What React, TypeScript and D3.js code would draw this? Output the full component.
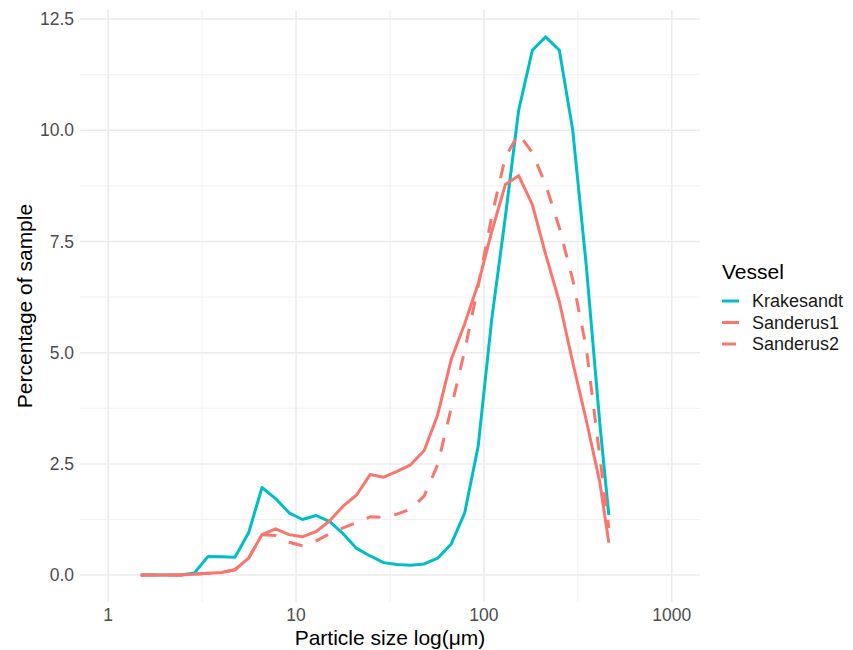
import React from "react";
import * as d3 from "d3";

// Particle size classes (µm)
const sizes = [
  1.49, 1.75, 2.07, 2.44, 2.88, 3.4, 4.01, 4.73, 5.59, 6.59, 7.78, 9.18, 10.8,
  12.8, 15.1, 17.8, 21.0, 24.8, 29.3, 34.5, 40.7, 48.1, 56.7, 67.0, 79.0, 93.2,
  110, 130, 153, 181, 213, 252, 297, 351, 414, 462,
];

// Percentage of sample per class, one array per vessel
const krakesandt = [
  0, 0, 0, 0, 0.05, 0.42, 0.41, 0.4, 0.95, 1.97, 1.72, 1.4, 1.25, 1.34, 1.2,
  0.93, 0.6, 0.43, 0.28, 0.24, 0.22, 0.25, 0.38, 0.7, 1.4, 2.9, 5.75, 8.05,
  10.45, 11.8, 12.1, 11.8, 10.0, 6.93, 3.4, 1.35,
];
const sanderus1 = [
  0, 0, 0, 0, 0.02, 0.04, 0.06, 0.12, 0.38, 0.91, 1.04, 0.91, 0.86, 0.98, 1.22,
  1.55, 1.8, 2.26, 2.2, 2.33, 2.48, 2.8, 3.6, 4.85, 5.65, 6.55, 7.72, 8.78,
  8.98, 8.33, 7.21, 6.15, 4.78, 3.47, 2.08, 0.73,
];
const sanderus2 = [
  0, 0, 0, 0, 0.02, 0.04, 0.06, 0.12, 0.38, 0.91, 0.89, 0.74, 0.66, 0.77, 0.93,
  1.06, 1.18, 1.31, 1.3, 1.37, 1.48, 1.78, 2.48, 3.76, 5.05, 6.5, 8.06, 9.4,
  9.92, 9.5, 8.78, 7.81, 6.64, 5.09, 2.65, 1.06,
];

const vessels = ["Krakesandt", "Sanderus1", "Sanderus2"];
const xTicks = [1, 10, 100, 1000];
const yTicks = [0, 2.5, 5, 7.5, 10, 12.5];

const W = 853;
const H = 650;
const panel = { left: 80, right: 700, top: 10, bottom: 602 };
const teal = "#00BFC4";
const salmon = "#F8766D";
const font = "'Liberation Sans', Arial, Helvetica, sans-serif";

export default function App() {
  // log x-scale with limits 1..1000 plus 5% expansion
  const lx0 = Math.log10(xTicks[0]);
  const lx1 = Math.log10(xTicks[xTicks.length - 1]);
  const padX = (lx1 - lx0) * 0.05;
  const x = d3
    .scaleLog()
    .domain([Math.pow(10, lx0 - padX), Math.pow(10, lx1 + padX)])
    .range([panel.left, panel.right]);

  const yMax = d3.max([...krakesandt, ...sanderus1, ...sanderus2]) as number;
  const padY = yMax * 0.05;
  const y = d3
    .scaleLinear()
    .domain([-padY, yMax + padY])
    .range([panel.bottom, panel.top]);

  const xMinor = xTicks.slice(0, -1).map((t) => t * Math.sqrt(10));
  const yMinor = yTicks.slice(0, -1).map((t) => t + 1.25);

  const line = (vals: number[]) =>
    d3
      .line<number>()
      .x((_, i) => x(sizes[i]))
      .y((v) => y(v))(vals) as string;

  const series = [
    { name: vessels[0], vals: krakesandt, color: teal, dash: undefined },
    { name: vessels[1], vals: sanderus1, color: salmon, dash: undefined },
    { name: vessels[2], vals: sanderus2, color: salmon, dash: "14 14" },
  ];

  const fmt = d3.format(".1f");

  return (
    <svg
      width={W}
      height={H}
      style={{ position: "absolute", left: 0, top: 0, background: "#fff" }}
      fontFamily={font}
    >
      {/* grid */}
      <g>
        {yMinor.map((t) => (
          <line key={"ym" + t} x1={panel.left} x2={panel.right} y1={y(t)} y2={y(t)} stroke="#F0F0F0" strokeWidth={1} />
        ))}
        {xMinor.map((t) => (
          <line key={"xm" + t} y1={panel.top} y2={panel.bottom} x1={x(t)} x2={x(t)} stroke="#F0F0F0" strokeWidth={1} />
        ))}
        {yTicks.map((t) => (
          <line key={"y" + t} x1={panel.left} x2={panel.right} y1={y(t)} y2={y(t)} stroke="#EBEBEB" strokeWidth={1.5} />
        ))}
        {xTicks.map((t) => (
          <line key={"x" + t} y1={panel.top} y2={panel.bottom} x1={x(t)} x2={x(t)} stroke="#EBEBEB" strokeWidth={1.5} />
        ))}
      </g>

      {/* lines */}
      <g fill="none" strokeWidth={3} strokeLinejoin="round" strokeLinecap="butt">
        {series.map((s) => (
          <path key={s.name} d={line(s.vals)} stroke={s.color} strokeDasharray={s.dash} />
        ))}
      </g>

      {/* axis tick labels */}
      <g fill="#4D4D4D" fontSize={17.5}>
        {yTicks.map((t) => (
          <text key={"yl" + t} x={panel.left - 6} y={y(t)} dy="0.35em" textAnchor="end">
            {fmt(t)}
          </text>
        ))}
        {xTicks.map((t) => (
          <text key={"xl" + t} x={x(t)} y={panel.bottom + 13} dy="0.35em" textAnchor="middle">
            {String(t)}
          </text>
        ))}
      </g>

      {/* axis titles */}
      <text
        x={(panel.left + panel.right) / 2}
        y={638}
        dy="0.35em"
        textAnchor="middle"
        fontSize={21}
        fill="#000"
      >
        Particle size log(μm)
      </text>
      <text
        transform={`translate(25,${(panel.top + panel.bottom) / 2}) rotate(-90)`}
        dy="0.35em"
        textAnchor="middle"
        fontSize={21}
        fill="#000"
      >
        Percentage of sample
      </text>

      {/* legend */}
      <g>
        <text x={722} y={272} dy="0.35em" fontSize={21} fill="#000">
          Vessel
        </text>
        {series.map((s, i) => {
          const ly = 301 + i * 21.5;
          return (
            <g key={"lg" + s.name}>
              <line x1={722} x2={739} y1={ly} y2={ly} stroke={s.color} strokeWidth={3} strokeDasharray={s.dash} />
              <text x={752} y={ly} dy="0.35em" fontSize={18} fill="#1a1a1a">
                {s.name}
              </text>
            </g>
          );
        })}
      </g>
    </svg>
  );
}
